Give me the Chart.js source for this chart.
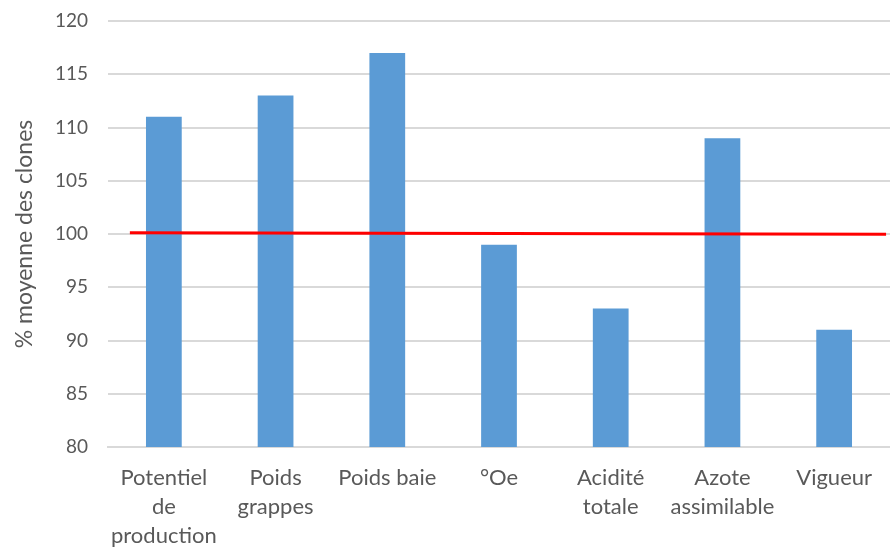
<!DOCTYPE html>
<html>
<head>
<meta charset="utf-8">
<script src="https://cdn.jsdelivr.net/npm/chart.js@4/dist/chart.umd.min.js"></script>
<style>
  html, body { margin: 0; padding: 0; background: #ffffff; }
  #wrap { width: 890px; height: 547px; }
</style>
</head>
<body>
<div id="wrap"><canvas id="c" width="890" height="547"></canvas></div>
<script>
// Criteria (multi-line labels) and clone performance in % of the clone mean
const categories = [
  ['Potentiel', 'de', 'production'],
  ['Poids', 'grappes'],
  ['Poids baie'],
  ['°Oe'],
  ['Acidité', 'totale'],
  ['Azote', 'assimilable'],
  ['Vigueur']
];
const values = [111, 113, 117, 99, 93, 109, 91];
const yTicks = [80, 85, 90, 95, 100, 105, 110, 115, 120];
// Reference line (mean = 100 %), value at its start and end
const refLevel = [100.12, 99.97];

const refStart = 0.028, refEnd = 0.995;
const textColor = '#595959';
const font = 'Lato, "Open Sans", sans-serif';

new Chart(document.getElementById('c'), {
  data: {
    labels: categories,
    datasets: [
      {
        type: 'bar',
        data: values,
        backgroundColor: '#5B9BD5',
        borderWidth: 0,
        grouped: false,
        barPercentage: 1,
        categoryPercentage: 0.32,
        xAxisID: 'x',
        order: 2
      },
      {
        type: 'line',
        data: [{ x: refStart, y: refLevel[0] }, { x: refEnd, y: refLevel[1] }],
        borderColor: '#FF0000',
        borderWidth: 3,
        pointRadius: 0,
        fill: false,
        xAxisID: 'xRef',
        order: 1
      }
    ]
  },
  options: {
    responsive: false,
    animation: false,
    layout: { padding: { top: 21, right: 0, left: 0, bottom: 0 } },
    plugins: { legend: { display: false }, tooltip: { enabled: false } },
    scales: {
      x: {
        type: 'category',
        grid: { display: false },
        border: { display: true, color: '#D9D9D9', width: 2 },
        ticks: {
          color: textColor,
          font: { family: font, size: 22, lineHeight: 1.33 },
          maxRotation: 0,
          autoSkip: false,
          padding: 8
        },
        afterFit: (s) => { s.height = 100; s.paddingLeft = 0; s.paddingRight = 0; }
      },
      xRef: {
        type: 'linear',
        display: false,
        min: 0,
        max: 1
      },
      y: {
        min: 80,
        max: 120,
        afterBuildTicks: (s) => { s.ticks = yTicks.map(v => ({ value: v })); },
        grid: { color: '#D9D9D9', lineWidth: 2, drawTicks: false },
        border: { display: false },
        ticks: {
          color: textColor,
          font: { family: font, size: 19 },
          padding: 20
        },
        title: {
          display: true,
          text: '% moyenne des clones',
          color: textColor,
          font: { family: font, size: 23 },
          padding: { top: 11, bottom: 0 }
        },
        afterFit: (s) => { s.width = 108; s.paddingTop = 0; s.paddingBottom = 0; }
      }
    }
  }
});
</script>
</body>
</html>
